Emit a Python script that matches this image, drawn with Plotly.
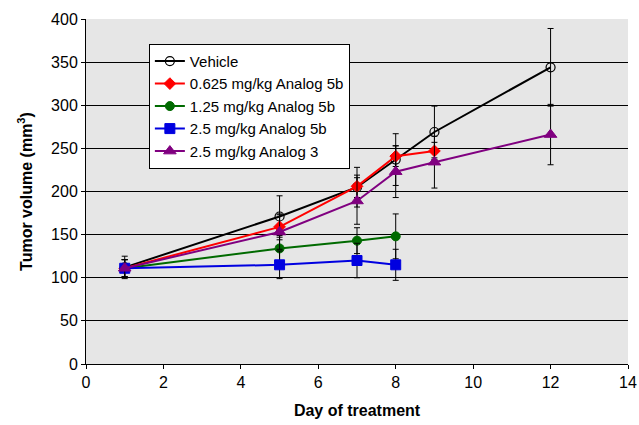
import plotly.graph_objects as go

days_vehicle = [1, 5, 7, 8, 9, 12]
vehicle = [112, 171, 205, 237, 269, 344]
vehicle_err = [13, 24, 23, 30, 30, 45]

days_a = [1, 5, 7, 8, 9]
analog5b_0625 = [111, 159, 206, 241, 247]
analog5b_0625_err = [10, 15, 13, 12, 10]

days_b = [1, 5, 7, 8]
analog5b_125 = [111, 134, 143, 148]
analog5b_125_err = [10, 15, 15, 26]

analog5b_25 = [111, 115, 120, 115]
analog5b_25_err = [10, 16, 20, 18]

days_c = [1, 5, 7, 8, 9, 12]
analog3_25 = [111, 153, 189, 223, 234, 266]
analog3_25_err = [10, 20, 27, 30, 30, 35]

names = ["Vehicle", "0.625 mg/kg Analog 5b", "1.25 mg/kg Analog 5b",
         "2.5 mg/kg Analog 5b", "2.5 mg/kg Analog 3"]

series = [
    (days_vehicle, vehicle, vehicle_err, "black", "circle-open", 9),
    (days_a, analog5b_0625, analog5b_0625_err, "#ff0000", "diamond", 9),
    (days_b, analog5b_125, analog5b_125_err, "#006a00", "circle", 9),
    (days_b, analog5b_25, analog5b_25_err, "#0000e0", "square", 10),
    (days_c, analog3_25, analog3_25_err, "#800080", "triangle-up", 11),
]

fig = go.Figure()
for name, (x, y, e, c, sym, sz) in zip(names, series):
    fig.add_trace(go.Scatter(
        x=x, y=y, name=name, mode="lines+markers",
        line=dict(color=c, width=2),
        marker=dict(symbol=sym, size=sz, color=c,
                    line=dict(color=c, width=1 if sym != "circle-open" else 1.2)),
        error_y=dict(type="data", array=e, visible=True, color="black",
                     thickness=1, width=3),
    ))

fig.update_layout(
    width=639, height=425,
    margin=dict(l=86, r=11, t=19, b=61, autoexpand=False),
    paper_bgcolor="white", plot_bgcolor="#e6e6e6",
    font=dict(family="Liberation Sans, Arial, sans-serif", size=16, color="black"),
    showlegend=True,
    legend=dict(x=0.116, y=0.928, xanchor="left", yanchor="top",
                bgcolor="white", bordercolor="black", borderwidth=1,
                font=dict(size=15), tracegroupgap=0, itemwidth=30),
    xaxis=dict(range=[0, 14], dtick=2, tick0=0, showgrid=False, zeroline=False,
               showline=True, linecolor="black", linewidth=1, automargin=True,
               ticks="outside", ticklen=4, tickcolor="black",
               tickfont=dict(size=16),
               title=dict(text="<b>Day of treatment</b>", font=dict(size=16), standoff=14)),
    yaxis=dict(range=[0, 400], dtick=50, showgrid=True, gridcolor="black", gridwidth=1,
               zeroline=False, showline=True, linecolor="black", linewidth=1, automargin=True,
               ticks="outside", ticklen=4, tickcolor="black",
               tickfont=dict(size=16),
               title=dict(text="<b>Tumor volume (mm<sup>3</sup>)</b>", font=dict(size=16), standoff=14)),
)

# remove the browser's default 8px body margin so the figure fills the window exactly
fig.write_html("out.html", config={"displayModeBar": False},
               post_script="document.body.style.margin='0';document.body.style.overflow='hidden';")
